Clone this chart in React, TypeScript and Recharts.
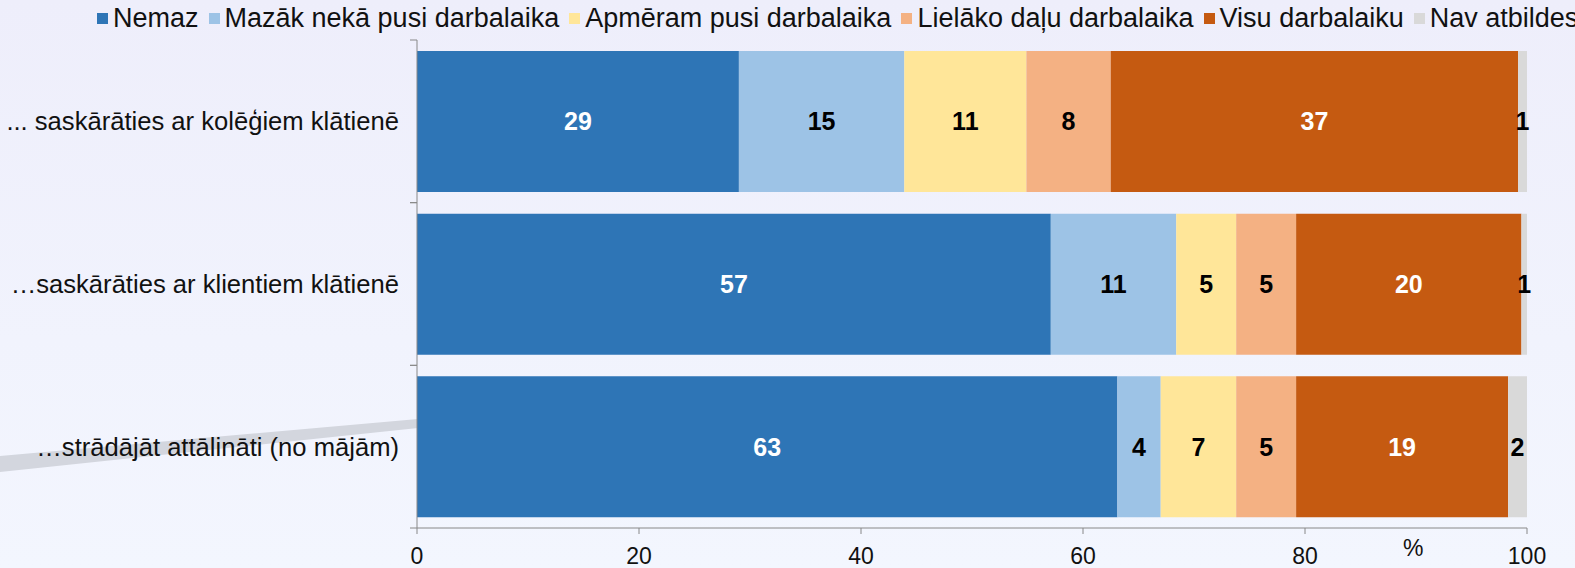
import React from 'react'
import { BarChart, Bar, XAxis, YAxis, LabelList } from 'recharts'

const categories = [
  '... saskārāties ar kolēģiem klātienē',
  '…saskārāties ar klientiem klātienē',
  '…strādājāt attālināti (no mājām)',
]

const nemaz = [29.0, 57.1, 63.1]
const mazak = [14.9, 11.3, 3.9]
const apmeram = [11.0, 5.4, 6.8]
const lielako = [7.6, 5.4, 5.4]
const visu = [36.7, 20.3, 19.1]
const nav = [0.8, 0.5, 1.7]

const xTicks = [0, 20, 40, 60, 80, 100]

const series = [
  { key: 'nemaz', name: 'Nemaz', values: nemaz, color: '#2e75b6', text: '#ffffff' },
  { key: 'mazak', name: 'Mazāk nekā pusi darbalaika', values: mazak, color: '#9dc3e6', text: '#000000' },
  { key: 'apmeram', name: 'Apmēram pusi darbalaika', values: apmeram, color: '#ffe699', text: '#000000' },
  { key: 'lielako', name: 'Lielāko daļu darbalaika', values: lielako, color: '#f4b183', text: '#000000' },
  { key: 'visu', name: 'Visu darbalaiku', values: visu, color: '#c55a11', text: '#ffffff' },
  { key: 'nav', name: 'Nav atbildes', values: nav, color: '#d9d9d9', text: '#000000' },
]

const data = categories.map((c, i) => {
  const row: Record<string, string | number> = { name: c }
  series.forEach((s) => (row[s.key] = s.values[i]))
  return row
})

const FONT = '"Liberation Sans", Arial, sans-serif'
const W = 1575
const H = 568
const TOP = 40
const BOTTOM = 40
const BAND = (H - TOP - BOTTOM) / categories.length

function CategoryTick(props: any) {
  const { x, y, payload } = props
  return (
    <g>
      <line x1={x + 1} x2={x + 8} y1={y - BAND / 2} y2={y - BAND / 2} stroke="#888" />
      <line x1={x + 1} x2={x + 8} y1={y + BAND / 2} y2={y + BAND / 2} stroke="#888" />
      <text x={x - 10} y={y} dy="0.35em" textAnchor="end" fontSize={25.6} fill="#111" fontFamily={FONT}>
        {payload.value}
      </text>
    </g>
  )
}

export default function App() {
  return (
    <div
      style={{
        position: 'relative',
        width: W,
        height: H,
        overflow: 'hidden',
        background: 'linear-gradient(180deg, #eeeefb 0%, #f1f3fd 60%, #f3f6fe 100%)',
        fontFamily: FONT,
      }}
    >
      <style>{'html,body{margin:0;padding:0;}'}</style>
      <svg width={W} height={H} style={{ position: 'absolute', left: 0, top: 0 }}>
        <polygon points="0,456 418,419 418,428 0,472" fill="#d3d6de" />
      </svg>
      <div
        style={{
          position: 'absolute',
          top: 3,
          left: 97,
          display: 'flex',
          whiteSpace: 'nowrap',
          fontSize: 27,
          lineHeight: '30px',
          color: '#111',
        }}
      >
        {series.map((s) => (
          <div key={s.key} style={{ display: 'flex', alignItems: 'center', marginRight: 10 }}>
            <span style={{ width: 11, height: 11, background: s.color, marginRight: 5, display: 'inline-block' }} />
            <span>{s.name}</span>
          </div>
        ))}
      </div>
      <div style={{ position: 'absolute', left: 1403, top: 535, fontSize: 23, color: '#111' }}>%</div>
      <div style={{ position: 'absolute', left: 0, top: 0 }}>
        <BarChart
          width={W}
          height={H}
          data={data}
          layout="vertical"
          margin={{ top: TOP, right: 48, bottom: 0, left: 0 }}
          barSize={141}
        >
          <XAxis
            type="number"
            domain={[0, 100]}
            ticks={xTicks}
            height={BOTTOM}
            stroke="#888"
            tickSize={6}
            tickMargin={14}
            tick={{ fontSize: 23, fill: '#111', fontFamily: FONT }}
            interval={0}
          />
          <YAxis
            type="category"
            dataKey="name"
            width={417}
            stroke="#888"
            tickLine={false}
            tick={<CategoryTick />}
            interval={0}
          />
          {series.map((s) => (
            <Bar key={s.key} dataKey={s.key} stackId="a" fill={s.color} isAnimationActive={false}>
              <LabelList
                dataKey={s.key}
                position="center"
                formatter={(v: any) => Math.round(Number(v))}
                fill={s.text}
                fontSize={25}
                fontWeight="bold"
                fontFamily={FONT}
              />
            </Bar>
          ))}
        </BarChart>
      </div>
    </div>
  )
}
